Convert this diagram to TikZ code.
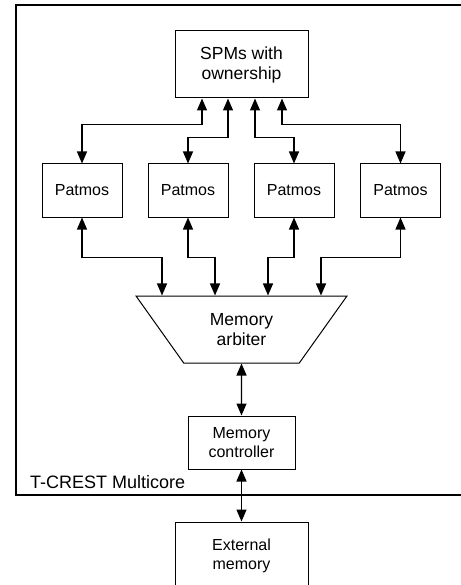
\documentclass[tikz,border=0pt]{standalone}
\usepackage{fontspec}
\setmainfont{Liberation Sans}
\usetikzlibrary{arrows.meta,shapes.geometric}

\begin{document}
\begin{tikzpicture}[x=1pt,y=-1pt,
  blk/.style={draw, line width=1pt, inner sep=0pt, align=center,
    font=\fontsize{16}{19}\selectfont},
  bidir/.style={{Triangle[length=12pt,width=10pt]}-{Triangle[length=12pt,width=10pt]},
    line width=1.3pt}]
\useasboundingbox (0,0) rectangle (460,585);
% multicore frame
\draw[line width=1.5pt] (16,5) rectangle (463,495);
\node[anchor=base west, inner sep=0pt, font=\fontsize{18}{21}\selectfont] (tcrest) at (30,488) {T-CREST Multicore};

\node[blk, minimum width=133pt, minimum height=67pt, font=\fontsize{17.5}{20}\selectfont] (spm) at (241.5,64.5) {SPMs with\\ownership};
\node[blk, minimum width=80pt, minimum height=53pt] (p1) at (82,190.5) {Patmos};
\node[blk, minimum width=80pt, minimum height=53pt] (p2) at (188,190.5) {Patmos};
\node[blk, minimum width=80pt, minimum height=53pt] (p3) at (294,190.5) {Patmos};
\node[blk, minimum width=80pt, minimum height=53pt] (p4) at (400.5,190.5) {Patmos};
\node[blk, trapezium, shape border rotate=180, trapezium stretches=true,
  trapezium angle=51, minimum width=211pt, minimum height=67pt,
  font=\fontsize{17.5}{20}\selectfont] (arb) at (241.5,329.5) {Memory\\arbiter};
\node[blk, minimum width=107pt, minimum height=53pt] (ctrl) at (241.5,442.5) {Memory\\controller};
\node[blk, minimum width=133pt, minimum height=67pt] (ext) at (241.5,555.5) {External\\memory};

% SPM <-> cores
\draw[bidir] ([xshift=-39.5pt]spm.south) -- ++(0,26) -| (p1.north);
\draw[bidir] ([xshift=-13.5pt]spm.south) -- ++(0,39) -| (p2.north);
\draw[bidir] ([xshift=13.5pt]spm.south) -- ++(0,39) -| (p3.north);
\draw[bidir] ([xshift=40.5pt]spm.south) -- ++(0,26) -| (p4.north);
% cores <-> arbiter
\draw[bidir] (p1.south) -- ++(0,40) -| ([xshift=-79.5pt]arb.north);
\draw[bidir] (p2.south) -- ++(0,40) -| ([xshift=-26.5pt]arb.north);
\draw[bidir] (p3.south) -- ++(0,40) -| ([xshift=26.5pt]arb.north);
\draw[bidir] (p4.south) -- ++(0,40) -| ([xshift=79.5pt]arb.north);
\draw[bidir] (arb.south) -- (ctrl.north);
\draw[bidir] (ctrl.south) -- (ext.north);
\end{tikzpicture}
\end{document}
